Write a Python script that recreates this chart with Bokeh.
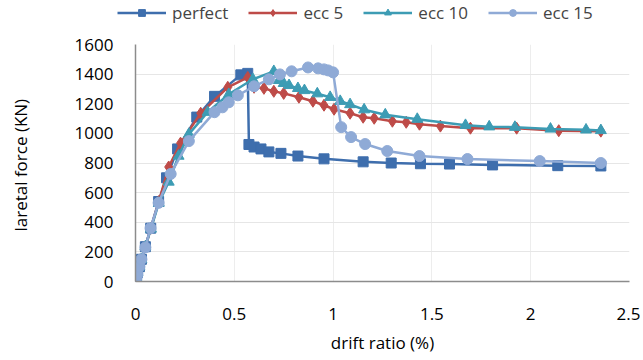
from bokeh.plotting import figure
from bokeh.layouts import column
from bokeh.models import Legend, LegendItem, FixedTicker, Range1d
from bokeh.embed import file_html
from bokeh.resources import INLINE

# ---------------- data ----------------
perfect_x = [0, 0.005, 0.01, 0.02, 0.03, 0.05, 0.077, 0.117, 0.157, 0.213, 0.31, 0.40, 0.533, 0.568,
             0.574, 0.60, 0.635, 0.675, 0.736, 0.822, 0.954, 1.152, 1.294, 1.442, 1.589, 1.807, 2.137, 2.355]
perfect_y = [0, 30, 60, 100, 150, 235, 360, 540, 700, 895, 1110, 1250, 1395, 1405,
             925, 908, 895, 875, 865, 847, 828, 808, 800, 795, 793, 787, 782, 780]

ecc5_x = [0, 0.005, 0.01, 0.02, 0.03, 0.05, 0.078, 0.118, 0.168, 0.228, 0.33, 0.467, 0.568,
          0.60, 0.65, 0.70, 0.75, 0.827, 0.898, 0.954, 1.005, 1.086, 1.152, 1.208, 1.30, 1.37,
          1.437, 1.543, 1.695, 1.929, 2.142, 2.355]
ecc5_y = [0, 30, 60, 100, 150, 235, 360, 540, 773, 934, 1136, 1311, 1378,
          1311, 1304, 1284, 1270, 1244, 1217, 1190, 1163, 1136, 1109, 1102, 1082, 1075,
          1062, 1049, 1035, 1035, 1018, 1015]

ecc10_x = [0, 0.005, 0.01, 0.02, 0.03, 0.05, 0.078, 0.118, 0.168, 0.218, 0.27, 0.365, 0.472, 0.594, 0.70,
           0.726, 0.75, 0.777, 0.822, 0.855, 0.92, 0.985, 1.036, 1.086, 1.157, 1.264, 1.426, 1.67,
           1.79, 1.92, 2.10, 2.28, 2.355]
ecc10_y = [0, 30, 60, 100, 150, 235, 355, 530, 672, 847, 995, 1143, 1264, 1365, 1419,
           1358, 1338, 1324, 1304, 1290, 1268, 1244, 1217, 1195, 1160, 1126, 1096, 1055,
           1045, 1042, 1030, 1024, 1020]

ecc15_x = [0, 0.005, 0.01, 0.02, 0.03, 0.05, 0.076, 0.117, 0.178, 0.27, 0.40, 0.44, 0.472, 0.518, 0.60,
           0.675, 0.731, 0.79, 0.873, 0.924, 0.954, 0.975, 1.0, 1.041, 1.091, 1.162, 1.274, 1.437,
           1.68, 2.046, 2.355]
ecc15_y = [0, 25, 50, 100, 150, 230, 360, 531, 726, 948, 1143, 1176, 1210, 1257, 1318,
           1365, 1398, 1419, 1445, 1439, 1432, 1425, 1412, 1042, 975, 928, 881, 847,
           827, 813, 800]

series_names = ["perfect", "ecc 5", "ecc 10", "ecc 15"]
x_ticks = [0, 0.5, 1, 1.5, 2, 2.5]
x_tick_labels = ["0", "0.5", "1", "1.5", "2", "2.5"]
y_ticks = [0, 200, 400, 600, 800, 1000, 1200, 1400, 1600]

# ---------------- styling ----------------
FONT = "Open Sans"
FS = "17px"
colors = ["#3E6EAD", "#BE4B48", "#3D9CB4", "#8FAAD6"]
markers = ["square", "diamond", "triangle", "circle"]
sizes = [10, 12, 11, 11]
series = [(perfect_x, perfect_y), (ecc5_x, ecc5_y), (ecc10_x, ecc10_y), (ecc15_x, ecc15_y)]

W = 640
LEG_H = 28

p = figure(width=W, height=328, output_backend="svg", toolbar_location=None,
           x_range=Range1d(0, 2.5), y_range=Range1d(0, 1600),
           min_border_left=135, min_border_right=W - 629, min_border_top=16, min_border_bottom=74)
p.outline_line_color = None
p.background_fill_color = "white"
p.frame_align = False

for ax in (p.xaxis, p.yaxis):
    ax.axis_line_color = "#8C8C8C"
    ax.axis_line_width = 1.5
    ax.major_tick_line_color = None
    ax.minor_tick_line_color = None
    ax.major_label_text_font = FONT
    ax.major_label_text_font_size = FS
    ax.major_label_text_color = "#000000"
    ax.axis_label_text_font = FONT
    ax.axis_label_text_font_size = FS
    ax.axis_label_text_font_style = "normal"
    ax.axis_label_text_color = "#000000"

p.xaxis.ticker = FixedTicker(ticks=x_ticks)
p.xaxis.major_label_overrides = {t: l for t, l in zip(x_ticks, x_tick_labels)}
p.yaxis.ticker = FixedTicker(ticks=y_ticks)
p.yaxis.major_label_overrides = {t: str(t) for t in y_ticks}
p.xaxis.axis_label = "drift ratio (%)"
p.yaxis.axis_label = "laretal  force (KN)"
p.xaxis.major_label_standoff = 20
p.yaxis.major_label_standoff = 16
p.xaxis.axis_label_standoff = 8
p.yaxis.axis_label_standoff = 40

p.xgrid.grid_line_color = "#EDEDED"
p.ygrid.grid_line_color = "#E6E6E6"
p.xgrid.ticker = FixedTicker(ticks=x_ticks)
p.ygrid.ticker = FixedTicker(ticks=y_ticks)

for (xs, ys), c, mk, sz in zip(series, colors, markers, sizes):
    p.line(xs, ys, line_color=c, line_width=2.5)
    p.scatter(xs, ys, marker=mk, size=sz, fill_color=c, line_color=c)

# legend strip above the plot (its renderers' data lie outside its view)
lg = figure(width=W, height=LEG_H, output_backend="svg", toolbar_location=None,
            x_axis_type=None, y_axis_type=None,
            x_range=Range1d(10, 11), y_range=Range1d(10, 11),
            min_border_left=0, min_border_right=0, min_border_top=0, min_border_bottom=0)
lg.outline_line_color = None
lg.grid.visible = False
lg.frame_align = False
items = []
for (xs, ys), name, c, mk, sz in zip(series, series_names, colors, markers, sizes):
    ln = lg.line(xs, ys, line_color=c, line_width=2.5)
    sc = lg.scatter(xs, ys, marker=mk, size=sz - 1, fill_color=c, line_color=c)
    items.append(LegendItem(label=name, renderers=[ln, sc]))

legend = Legend(items=items, orientation="horizontal", location=(117, 4),
                label_text_font=FONT, label_text_font_size=FS,
                glyph_width=49, glyph_height=17, label_height=17, label_standoff=6, spacing=20,
                padding=0, margin=0, border_line_color=None, background_fill_alpha=0)
lg.add_layout(legend)

layout = column(lg, p, spacing=0)
open("out.html", "w").write(file_html(layout, INLINE))
